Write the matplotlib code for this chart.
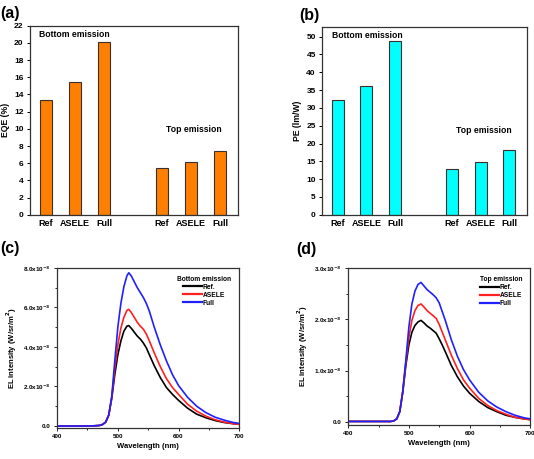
import matplotlib
matplotlib.use('Agg')
import matplotlib.pyplot as plt
from matplotlib.ticker import MultipleLocator

plt.rcParams['font.family'] = ['Liberation Sans', 'DejaVu Sans']
plt.rcParams['font.weight'] = 'bold'
plt.rcParams['axes.labelweight'] = 'bold'
plt.rcParams['axes.linewidth'] = 0.9
plt.rcParams['axes.edgecolor'] = '#333333'

# bar data
devices = ['Ref', 'ASELE', 'Full', 'Ref', 'ASELE', 'Full']
bar_pos = [1, 2, 3, 5, 6, 7]
eqe = [13.3, 15.4, 20.1, 5.4, 6.2, 7.4]
pe = [32.1, 36.2, 48.8, 12.9, 14.7, 18.2]

# bottom emission spectra (x1e-3 W/sr/m2)
wl_c = [400, 420, 440, 460, 470, 475, 480, 485, 490, 495, 500, 505, 510, 515, 518,
        522, 527, 532, 537, 542, 547, 552, 560, 570, 580, 590, 600, 615, 630, 645,
        660, 675, 690, 700]
ref_c = [0.0, 0.0, 0.0, 0.01, 0.03, 0.08, 0.2, 0.55, 1.4, 2.6, 3.6, 4.3, 4.8, 5.05, 5.08,
         4.95, 4.75, 4.55, 4.4, 4.2, 3.95, 3.6, 3.05, 2.45, 1.95, 1.6, 1.3, 0.9, 0.6, 0.42,
         0.28, 0.18, 0.12, 0.09]
asele_c = [0.0, 0.0, 0.0, 0.01, 0.03, 0.08, 0.2, 0.55, 1.45, 2.9, 4.1, 4.95, 5.5, 5.85, 5.9,
           5.75, 5.5, 5.25, 5.05, 4.9, 4.65, 4.3, 3.7, 3.0, 2.4, 1.95, 1.6, 1.1, 0.75, 0.5,
           0.32, 0.2, 0.12, 0.08]
full_c = [0.0, 0.0, 0.0, 0.01, 0.03, 0.08, 0.2, 0.55, 1.5, 3.3, 5.0, 6.2, 7.05, 7.6, 7.75,
          7.6, 7.3, 7.0, 6.75, 6.5, 6.2, 5.8, 5.0, 4.1, 3.3, 2.6, 2.05, 1.45, 1.0, 0.68,
          0.45, 0.3, 0.18, 0.13]

# top emission spectra (x1e-3 W/sr/m2)
wl_d = [400, 440, 460, 470, 475, 480, 485, 490, 495, 500, 505, 510, 515, 520, 525,
        530, 535, 540, 545, 550, 555, 560, 570, 580, 590, 600, 615, 630, 645, 660,
        675, 690, 700]
ref_d = [0.01, 0.01, 0.01, 0.01, 0.02, 0.06, 0.2, 0.58, 1.1, 1.5, 1.75, 1.88, 1.95, 1.98, 1.93,
         1.87, 1.83, 1.78, 1.73, 1.62, 1.5, 1.37, 1.1, 0.88, 0.7, 0.56, 0.4, 0.28, 0.2, 0.13,
         0.09, 0.06, 0.05]
asele_d = [0.01, 0.01, 0.01, 0.01, 0.02, 0.06, 0.2, 0.6, 1.15, 1.65, 1.98, 2.17, 2.27, 2.3, 2.24,
           2.17, 2.12, 2.07, 2.02, 1.9, 1.75, 1.6, 1.3, 1.04, 0.82, 0.66, 0.46, 0.32, 0.22, 0.15,
           0.09, 0.06, 0.04]
full_d = [0.01, 0.01, 0.01, 0.01, 0.02, 0.06, 0.2, 0.6, 1.2, 1.85, 2.3, 2.55, 2.68, 2.72, 2.65,
          2.58, 2.53, 2.48, 2.42, 2.32, 2.15, 1.98, 1.6, 1.28, 1.02, 0.82, 0.58, 0.41, 0.29, 0.2,
          0.13, 0.08, 0.06]

fig = plt.figure(figsize=(5.34, 4.59), dpi=100)
ax_a = fig.add_axes([0.056, 0.532, 0.39, 0.412])
ax_b = fig.add_axes([0.603, 0.532, 0.384, 0.41])
ax_c = fig.add_axes([0.107, 0.0675, 0.341, 0.349])
ax_d = fig.add_axes([0.652, 0.074, 0.341, 0.342])


def bar_panel(ax, vals, color, ylim, step, ylabel):
    ax.bar(bar_pos, vals, width=0.42, color=color, edgecolor='#3a3030', linewidth=0.8)
    ax.set_xlim(0.45, 7.62)
    ax.set_ylim(0, ylim)
    ax.yaxis.set_major_locator(MultipleLocator(step))
    ax.set_xticks(bar_pos)
    ax.set_xticklabels(devices)
    ax.tick_params(axis='x', length=0, labelsize=6.5, pad=3)
    ax.tick_params(axis='y', direction='out', length=2.5, width=0.7, labelsize=6, pad=2)
    ax.set_ylabel(ylabel, fontsize=6.2, labelpad=3)


bar_panel(ax_a, eqe, '#ff8000', 22, 2, 'EQE (%)')
ax_a.text(0.045, 0.955, 'Bottom emission', transform=ax_a.transAxes, fontsize=6.2, va='center')
ax_a.text(0.655, 0.45, 'Top emission', transform=ax_a.transAxes, fontsize=6.2, va='center')

bar_panel(ax_b, pe, '#00ffff', 52.8, 5, 'PE (lm/W)')
ax_b.text(0.05, 0.955, 'Bottom emission', transform=ax_b.transAxes, fontsize=6.2, va='center')
ax_b.text(0.655, 0.45, 'Top emission', transform=ax_b.transAxes, fontsize=6.2, va='center')


def spec_panel(ax, wl, ref, asele, full, ylim, step, title):
    ax.plot(wl, ref, color='black', lw=1.2, label='Ref.')
    ax.plot(wl, asele, color='#ff2020', lw=1.2, label='ASELE')
    ax.plot(wl, full, color='#2020ff', lw=1.2, label='Full')
    ax.set_xlim(400, 700)
    ax.set_ylim(ylim[0], ylim[1])
    ax.xaxis.set_major_locator(MultipleLocator(100))
    ax.xaxis.set_minor_locator(MultipleLocator(50))
    ax.yaxis.set_major_locator(MultipleLocator(step))
    ax.yaxis.set_minor_locator(MultipleLocator(step / 2))
    ax.yaxis.set_major_formatter(plt.FuncFormatter(
        lambda v, p: '0.0' if abs(v) < 1e-9 else '%.1fx10$^{-3}$' % v))
    ax.tick_params(which='both', direction='out', width=0.6, labelsize=4.5, pad=2)
    ax.tick_params(which='major', length=2.5)
    ax.tick_params(which='minor', length=1.5)
    ax.set_xlabel('Wavelength (nm)', fontsize=5.5, labelpad=3)
    ax.set_ylabel('EL intensity (W/sr/m$^2$)', fontsize=5.5, labelpad=3)
    leg = ax.legend(title=title, loc='upper right', frameon=False, fontsize=4.8,
                    title_fontsize=4.8, handlelength=2.8, handletextpad=0.1,
                    labelspacing=0.15, borderaxespad=0.8)
    leg.get_title().set_fontweight('bold')
    for line in leg.get_lines():
        line.set_linewidth(1.6)


spec_panel(ax_c, wl_c, ref_c, asele_c, full_c, (-0.1, 8.0), 2.0, 'Bottom emission')
spec_panel(ax_d, wl_d, ref_d, asele_d, full_d, (-0.06, 3.0), 1.0, 'Top emission')

fig.text(0.0, 0.97, '(a)', fontsize=11.5, va='center')
fig.text(0.56, 0.967, '(b)', fontsize=11.5, va='center')
fig.text(0.0, 0.458, '(c)', fontsize=11.5, va='center')
fig.text(0.555, 0.456, '(d)', fontsize=11.5, va='center')

fig.savefig('out.png', dpi=100)
